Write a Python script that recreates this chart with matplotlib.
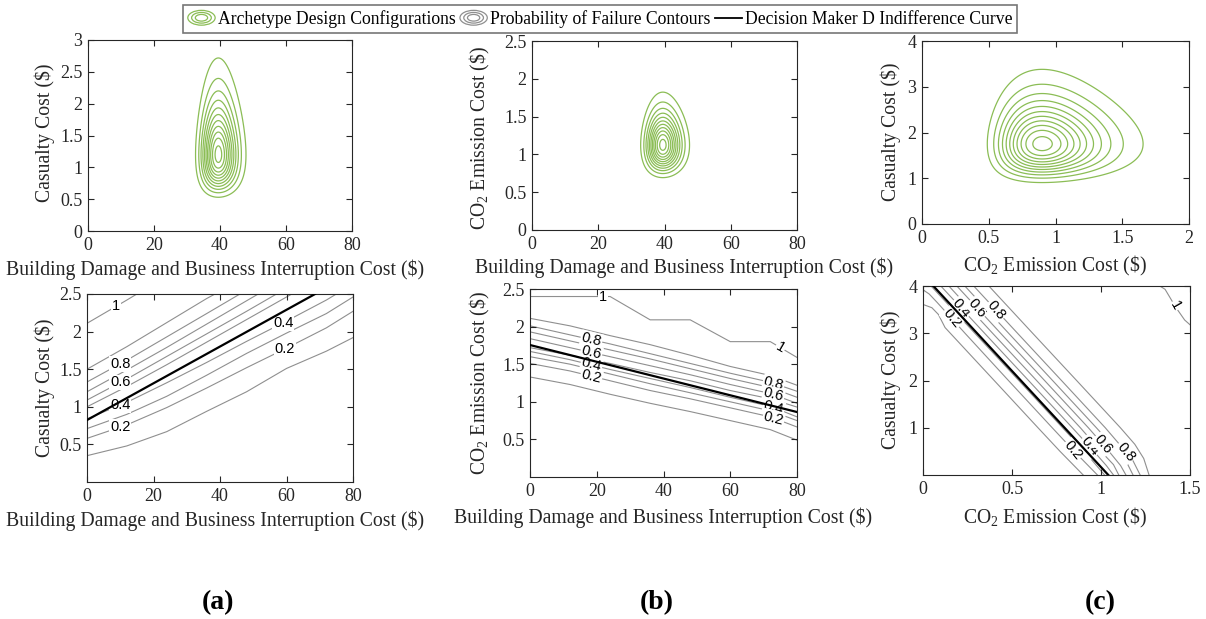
import numpy as np
import matplotlib
matplotlib.use("Agg")
import matplotlib.pyplot as plt
from matplotlib.patches import Ellipse
from matplotlib.lines import Line2D
from matplotlib.legend_handler import HandlerBase

plt.rcParams['font.family'] = ['Liberation Serif', 'DejaVu Serif']
plt.rcParams['mathtext.fontset'] = 'custom'
plt.rcParams['mathtext.rm'] = 'Liberation Serif'
plt.rcParams['mathtext.default'] = 'regular'
plt.rcParams['font.size'] = 13

W, H = 1206, 619
GREEN = '#8bbd55'
GRAY = '#8f8f8f'
DARK = '#262626'
LABEL_FS = 14.2

# ---- archetype design configurations (lognormal: mode, log-sd) ----
arch_a = dict(mode=(39.5, 1.20), sd=(0.087, 0.370))
arch_b = dict(mode=(39.5, 1.124), sd=(0.084, 0.219))
arch_c = dict(mode=(0.90, 1.75), sd=(0.276, 0.298))
arch_levels = [0.0871 * k for k in range(1, 12)]

# ---- probability of failure contours, panel (a) ----
pf_a = {
    0.1: ([0, 12, 24, 36, 48, 60, 72, 80], [0.35, 0.48, 0.67, 0.94, 1.20, 1.51, 1.74, 1.92]),
    0.2: ([0, 12, 24, 36, 48, 60, 72, 80], [0.58, 0.76, 0.99, 1.25, 1.52, 1.78, 2.05, 2.27]),
    0.3: ([0, 12, 24, 36, 48, 60, 72, 80], [0.71, 0.90, 1.14, 1.42, 1.71, 1.98, 2.24, 2.46]),
    0.4: ([0, 12, 24, 36, 48, 60, 72, 75], [0.84, 1.06, 1.32, 1.59, 1.87, 2.14, 2.42, 2.5]),
    0.5: ([0, 12, 24, 36, 48, 60, 61.6], [1.00, 1.27, 1.56, 1.86, 2.16, 2.46, 2.5]),
    0.6: ([0, 12, 24, 36, 48, 57], [1.09, 1.37, 1.67, 1.97, 2.27, 2.5]),
    0.7: ([0, 12, 24, 36, 48, 51.5], [1.20, 1.49, 1.79, 2.10, 2.41, 2.5]),
    0.8: ([0, 12, 24, 36, 46], [1.33, 1.62, 1.93, 2.24, 2.5]),
    0.9: ([0, 12, 24, 36, 38.5], [1.50, 1.80, 2.12, 2.44, 2.5]),
    1.0: ([0, 12, 15], [2.11, 2.42, 2.5]),
}
dm_a = ([0, 68.6], [0.824, 2.5])
labels_a = [(1.0, 8.7), (0.8, 10), (0.6, 10), (0.4, 10), (0.2, 10), (0.4, 59), (0.2, 59.5)]

# ---- panel (b) ----
bx = [0, 12, 24, 36, 48, 60, 72, 80]
pf_b = {
    0.1: (bx, [1.33, 1.23, 1.10, 0.98, 0.87, 0.75, 0.63, 0.49]),
    0.2: (bx, [1.51, 1.41, 1.28, 1.15, 1.04, 0.92, 0.80, 0.665]),
    0.3: (bx, [1.60, 1.50, 1.37, 1.24, 1.12, 1.00, 0.88, 0.75]),
    0.4: (bx, [1.67, 1.56, 1.43, 1.31, 1.19, 1.06, 0.94, 0.80]),
    0.5: (bx, [1.72, 1.62, 1.51, 1.39, 1.28, 1.15, 1.04, 0.93]),
    0.6: (bx, [1.84, 1.72, 1.60, 1.48, 1.36, 1.23, 1.11, 0.98]),
    0.7: (bx, [1.93, 1.81, 1.69, 1.57, 1.44, 1.31, 1.19, 1.06]),
    0.8: (bx, [2.01, 1.89, 1.77, 1.64, 1.51, 1.38, 1.26, 1.14]),
    0.9: (bx, [2.11, 2.01, 1.88, 1.76, 1.62, 1.47, 1.35, 1.22]),
    1.0: (bx, [2.40, 2.40, 2.40, 2.09, 2.09, 1.80, 1.80, 1.59]),
}
dm_b = ([0, 80], [1.755, 0.864])
labels_b = [(1.0, 22, 0), (0.8, 18.4, -14), (0.6, 18.4, -14), (0.4, 18.4, -14), (0.2, 18.4, -14),
            (1.0, 75, -30), (0.8, 73, -14), (0.6, 73, -14), (0.4, 73, -14), (0.2, 73, -14)]

# ---- panel (c) : (x list, y list) ----
pf_c = {
    0.1: ([0, 0.05, 0.086, 0.124, 0.40, 0.646, 0.77, 0.90], [3.61, 3.54, 3.40, 3.12, 2.0, 1.0, 0.5, 0.0]),
    0.2: ([0, 0.035, 0.08, 0.236, 0.48, 0.726, 0.85, 0.98], [3.92, 3.83, 3.65, 3.0, 2.0, 1.0, 0.5, 0.0]),
    0.3: ([0.045, 0.291, 0.538, 0.784, 0.907, 1.02], [4.0, 3.0, 2.0, 1.0, 0.5, 0.0]),
    0.4: ([0.10, 0.346, 0.593, 0.839, 0.96, 1.03, 1.07], [4.0, 3.0, 2.0, 1.0, 0.5, 0.2, 0.0]),
    0.5: ([0.145, 0.391, 0.638, 0.884, 1.0, 1.07, 1.10], [4.0, 3.0, 2.0, 1.0, 0.5, 0.22, 0.0]),
    0.6: ([0.19, 0.436, 0.683, 0.929, 1.045, 1.11, 1.14], [4.0, 3.0, 2.0, 1.0, 0.5, 0.2, 0.0]),
    0.7: ([0.235, 0.481, 0.728, 0.974, 1.07, 1.14, 1.18], [4.0, 3.0, 2.0, 1.0, 0.6, 0.3, 0.0]),
    0.8: ([0.285, 0.531, 0.778, 1.024, 1.115, 1.18, 1.22], [4.0, 3.0, 2.0, 1.0, 0.6, 0.3, 0.0]),
    0.9: ([0.37, 0.616, 0.863, 1.109, 1.19, 1.24, 1.27], [4.0, 3.0, 2.0, 1.0, 0.65, 0.35, 0.0]),
    1.0: ([1.33, 1.36, 1.42, 1.47, 1.5], [4.0, 3.93, 3.55, 3.28, 3.18]),
}
dm_c = ([0.058, 1.041], [4.0, 0.0])
labels_c = [(0.2, 3.31), (0.4, 3.53), (0.6, 3.53), (0.8, 3.49),
            (0.2, 0.53), (0.4, 0.60), (0.6, 0.65), (0.8, 0.49), (1.0, 3.58)]

XLAB_BD = 'Building Damage and Business Interruption Cost ($)'
LAB_CAS = 'Casualty Cost ($)'
LAB_CO2 = r'CO$_2$ Emission Cost (\$)'


def px_axes(fig, l, r, t, b):
    return fig.add_axes([l / W, 1 - b / H, (r - l) / W, (b - t) / H])


def style(ax):
    ax.tick_params(direction='in', top=True, right=True, length=4, width=0.8,
                   colors=DARK, labelsize=13, pad=4)
    for s in ax.spines.values():
        s.set_linewidth(0.8)
        s.set_color(DARK)


def set_labels(ax, xl, yl, xc, yc, ax_px):
    l, r, t, b = ax_px
    ax.set_xlabel(xl, va='center', color=DARK, fontsize=LABEL_FS)
    ax.set_ylabel(yl, va='center', color=DARK, fontsize=LABEL_FS)
    ax.xaxis.set_label_coords((xc[0] - l) / (r - l), (b - xc[1]) / (b - t))
    ax.yaxis.set_label_coords((yc[0] - l) / (r - l), (b - yc[1]) / (b - t))


def fmt(v):
    return '1' if v == 1.0 else f'{v:.1f}'


def density(ax, arch, xlim, ylim):
    xs = np.linspace(xlim[0] + 1e-6, xlim[1], 500)
    ys = np.linspace(ylim[0] + 1e-6, ylim[1], 500)
    X, Y = np.meshgrid(xs, ys)
    (mx, my), (sx, sy) = arch['mode'], arch['sd']
    Z = np.exp(-0.5 * (((np.log(X) - np.log(mx)) / sx) ** 2 + ((np.log(Y) - np.log(my)) / sy) ** 2))
    ax.contour(X, Y, Z, levels=arch_levels, colors=GREEN, linewidths=0.9)
    ax.set_xlim(*xlim)
    ax.set_ylim(*ylim)


def label_box():
    return dict(fc='white', ec='none', pad=0.6)


fig = plt.figure(figsize=(W / 100, H / 100), dpi=100)

# top row
pa = (88, 352, 40, 231)
ax = px_axes(fig, *pa)
density(ax, arch_a, (0, 80), (0, 3))
ax.set_xticks([0, 20, 40, 60, 80])
ax.set_yticks([0, 0.5, 1, 1.5, 2, 2.5, 3])
ax.set_yticklabels(['0', '0.5', '1', '1.5', '2', '2.5', '3'])
style(ax)
set_labels(ax, XLAB_BD, LAB_CAS, (215, 270), (45, 133), pa)

pb = (532, 797, 41, 230)
ax = px_axes(fig, *pb)
density(ax, arch_b, (0, 80), (0, 2.5))
ax.set_xticks([0, 20, 40, 60, 80])
ax.set_yticks([0, 0.5, 1, 1.5, 2, 2.5])
ax.set_yticklabels(['0', '0.5', '1', '1.5', '2', '2.5'])
style(ax)
set_labels(ax, XLAB_BD, LAB_CO2, (684, 268), (480, 138), pb)

pc = (922, 1189, 41, 224)
ax = px_axes(fig, *pc)
density(ax, arch_c, (0, 2), (0, 4))
ax.set_xticks([0, 0.5, 1, 1.5, 2])
ax.set_xticklabels(['0', '0.5', '1', '1.5', '2'])
ax.set_yticks([0, 1, 2, 3, 4])
style(ax)
set_labels(ax, LAB_CO2, LAB_CAS, (1055, 266), (891, 132), pc)

# bottom row
qa = (87, 353, 294, 482)
ax = px_axes(fig, *qa)
for lev, (xs, ys) in pf_a.items():
    ax.plot(xs, ys, color=GRAY, lw=0.8, zorder=1)
for lev, x in labels_a:
    xs, ys = pf_a[lev]
    ax.text(x, np.interp(x, xs, ys), fmt(lev), family='Liberation Sans', fontsize=10.5,
            ha='center', va='center', bbox=label_box(), zorder=2)
ax.plot(*dm_a, color='black', lw=1.6, zorder=3)
ax.set_xlim(0, 80)
ax.set_ylim(0, 2.5)
ax.set_xticks([0, 20, 40, 60, 80])
ax.set_yticks([0.5, 1, 1.5, 2, 2.5])
ax.set_yticklabels(['0.5', '1', '1.5', '2', '2.5'])
style(ax)
set_labels(ax, XLAB_BD, LAB_CAS, (215, 521), (45, 388), qa)

qb = (530, 797, 289, 477)
ax = px_axes(fig, *qb)
for lev, (xs, ys) in pf_b.items():
    ax.plot(xs, ys, color=GRAY, lw=0.8, zorder=1)
for lev, x, rot in labels_b:
    xs, ys = pf_b[lev]
    ax.text(x, np.interp(x, xs, ys), fmt(lev), family='Liberation Sans', fontsize=10.5,
            ha='center', va='center', rotation=rot, bbox=label_box(), zorder=2)
ax.plot(*dm_b, color='black', lw=1.6, zorder=3)
ax.set_xlim(0, 80)
ax.set_ylim(0, 2.5)
ax.set_xticks([0, 20, 40, 60, 80])
ax.set_yticks([0.5, 1, 1.5, 2, 2.5])
ax.set_yticklabels(['0.5', '1', '1.5', '2', '2.5'])
style(ax)
set_labels(ax, XLAB_BD, LAB_CO2, (663, 518), (480, 383), qb)

qc = (923, 1190, 286, 475)
ax = px_axes(fig, *qc)
for lev, (xs, ys) in pf_c.items():
    ax.plot(xs, ys, color=GRAY, lw=0.8, zorder=1)
for lev, y in labels_c:
    xs, ys = pf_c[lev]
    rot = -60 if lev == 1.0 else -50
    ax.text(np.interp(y, ys[::-1], xs[::-1]), y, fmt(lev), family='Liberation Sans',
            fontsize=10.5, ha='center', va='center', rotation=rot, bbox=label_box(), zorder=2)
ax.plot(*dm_c, color='black', lw=1.6, zorder=3)
ax.set_xlim(0, 1.5)
ax.set_ylim(0, 4)
ax.set_xticks([0, 0.5, 1, 1.5])
ax.set_xticklabels(['0', '0.5', '1', '1.5'])
ax.set_yticks([1, 2, 3, 4])
style(ax)
set_labels(ax, LAB_CO2, LAB_CAS, (1055, 518), (891, 380), qc)


# legend with concentric-ring icons
class HandlerRings(HandlerBase):
    def create_artists(self, legend, orig_handle, xdescent, ydescent, width, height,
                       fontsize, trans):
        cx, cy = width / 2 - xdescent, height / 2 - ydescent
        col = orig_handle.get_color()
        arts = []
        for f in (1.0, 0.72, 0.45):
            e = Ellipse((cx, cy), width * f, height * 1.2 * f, fill=False,
                        edgecolor=col, lw=0.9, transform=trans)
            arts.append(e)
        return arts


h_arch = Line2D([], [], color=GREEN)
h_pf = Line2D([], [], color=GRAY)
h_dm = Line2D([], [], color='black', lw=1.3)
leg = fig.legend([h_arch, h_pf, h_dm],
                 ['Archetype Design Configurations', 'Probability of Failure Contours',
                  'Decision Maker D Indifference Curve'],
                 handler_map={h_arch: HandlerRings(), h_pf: HandlerRings()},
                 loc='center', bbox_to_anchor=(600 / W, 1 - 19 / H), ncol=3,
                 frameon=True, fancybox=False, edgecolor='#555555', fontsize=12.7,
                 handlelength=1.55, handletextpad=0.15, columnspacing=0.25,
                 borderpad=0.3, borderaxespad=0)
leg.get_frame().set_linewidth(1.2)

for txt, xc in (('(a)', 218), ('(b)', 657), ('(c)', 1100)):
    fig.text(xc / W, 1 - 603 / H, txt, ha='center', va='center', fontsize=20,
             fontweight='bold')

fig.savefig('out.png', dpi=100)
